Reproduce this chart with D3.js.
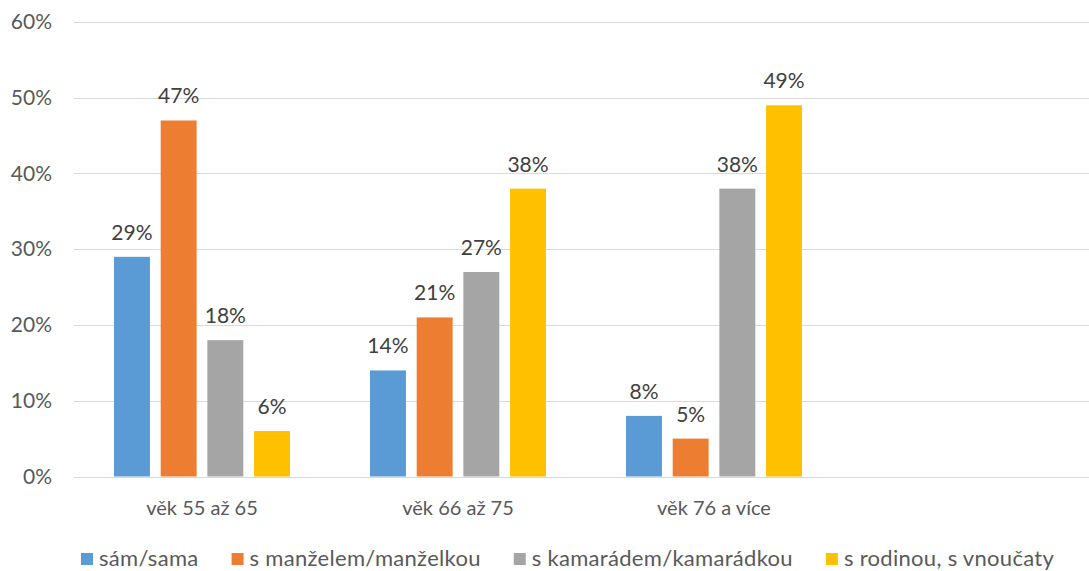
<!DOCTYPE html>
<html>
<head>
<meta charset="utf-8">
<script src="https://cdn.jsdelivr.net/npm/d3@7"></script>
<style>
  body { margin: 0; background: #fff; }
  svg { display: block; }
  text { font-family: Lato, "Open Sans", sans-serif; }
</style>
</head>
<body>
<div id="chart"></div>
<script>
// categories (4th band is empty, as in the source chart)
var categories = ['věk 55 až 65', 'věk 66 až 75', 'věk 76 a více', ''];
var seriesNames = ['sám/sama', 's manželem/manželkou', 's kamarádem/kamarádkou', 's rodinou, s vnoučaty'];
var seriesColors = ['#5B9BD5', '#ED7D31', '#A5A5A5', '#FFC000'];
var samSama = [0.29, 0.14, 0.08];
var sManzelem = [0.47, 0.21, 0.05];
var sKamaradem = [0.18, 0.27, 0.38];
var sRodinou = [0.06, 0.38, 0.49];
var yTicks = [0, 0.1, 0.2, 0.3, 0.4, 0.5, 0.6];

var values = [samSama, sManzelem, sKamaradem, sRodinou];

var width = 1089, height = 571;

var svg = d3.select('#chart')
    .append('svg')
    .attr('width', width)
    .attr('height', height)
;

var x0 = d3.scaleBand()
    .domain(categories)
    .range([74, 1098])
    .padding(0)
;

var x1 = d3.scaleBand()
    .domain(seriesNames)
    .range([40, x0.bandwidth() - 40])
    .paddingInner(0.23)
;

var y = d3.scaleLinear()
    .domain([0, 0.6])
    .range([476.5, 22])
;

// gridlines
svg.append('g')
    .selectAll('line')
    .data(yTicks)
    .enter()
    .append('line')
    .attr('x1', 74)
    .attr('x2', width)
    .attr('y1', function (d) { return Math.round(y(d)) + 0.5; })
    .attr('y2', function (d) { return Math.round(y(d)) + 0.5; })
    .attr('stroke', '#D9D9D9')
    .attr('stroke-width', 1)
;

// y axis labels
var yAxis = d3.axisLeft(y)
    .tickValues(yTicks)
    .tickFormat(d3.format('.0%'))
    .tickSize(0)
    .tickPadding(0)
;

svg.append('g')
    .attr('transform', 'translate(52,0)')
    .call(yAxis)
    .call(function (g) {
        g.select('.domain').remove();
        g.selectAll('text')
            .attr('fill', '#595959')
            .style('font-size', '21px')
            .style('font-family', 'Lato, sans-serif');
    })
;

// x axis labels
var xAxis = d3.axisBottom(x0).tickSize(0).tickPadding(0);

svg.append('g')
    .attr('transform', 'translate(0,515)')
    .call(xAxis)
    .call(function (g) {
        g.select('.domain').remove();
        g.selectAll('text')
            .attr('dy', 0)
            .attr('fill', '#595959')
            .style('font-size', '20px')
            .style('font-family', 'Lato, sans-serif');
    })
;

// bars
var rows = [];
categories.forEach(function (c, i) {
    seriesNames.forEach(function (s, j) {
        if (values[j][i] !== undefined) {
            rows.push({cat: c, series: s, value: values[j][i], color: seriesColors[j]});
        }
    });
});

var bars = svg.append('g');

bars.selectAll('rect')
    .data(rows)
    .enter()
    .append('rect')
    .attr('x', function (d) { return x0(d.cat) + x1(d.series); })
    .attr('y', function (d) { return y(d.value); })
    .attr('width', x1.bandwidth())
    .attr('height', function (d) { return y(0) - y(d.value); })
    .attr('fill', function (d) { return d.color; })
;

bars.selectAll('text')
    .data(rows)
    .enter()
    .append('text')
    .attr('x', function (d) { return x0(d.cat) + x1(d.series) + x1.bandwidth() / 2; })
    .attr('y', function (d) { return y(d.value) - 17; })
    .attr('text-anchor', 'middle')
    .attr('fill', '#404040')
    .style('font-size', '21px')
    .text(function (d) { return d3.format('.0%')(d.value); })
;

// legend
var legend = svg.append('g');
var lx = 81;
seriesNames.forEach(function (name, i) {
    legend.append('rect')
        .attr('x', lx)
        .attr('y', 553)
        .attr('width', 12)
        .attr('height', 12)
        .attr('fill', seriesColors[i]);
    var t = legend.append('text')
        .attr('x', lx + 18)
        .attr('y', 566)
        .attr('fill', '#595959')
        .style('font-size', '22px')
        .style('letter-spacing', '0.3px')
        .text(name);
    lx = lx + 18 + t.node().getComputedTextLength() + 33;
});
</script>
</body>
</html>
